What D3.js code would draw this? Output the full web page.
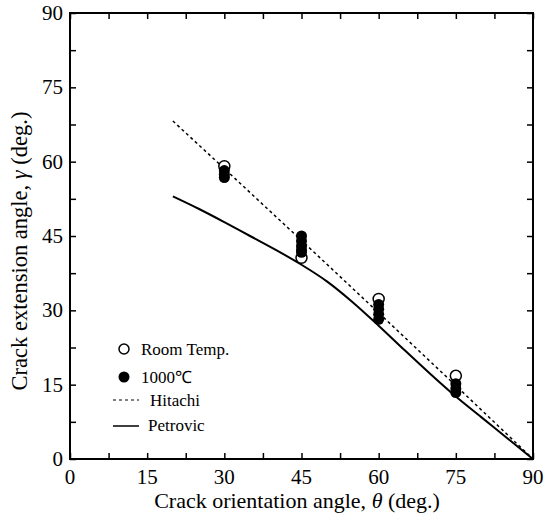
<!DOCTYPE html>
<html><head><meta charset="utf-8">
<script src="https://cdn.jsdelivr.net/npm/d3@7"></script>
<style>body{margin:0;background:#fff}svg{display:block}</style>
</head><body><svg id="c" width="545" height="521"></svg>
<script>
const xTicks = [0, 15, 30, 45, 60, 75, 90];
const yTicks = [0, 15, 30, 45, 60, 75, 90];
const roomTemp = [[30, 59.1], [45, 40.6], [60, 32.3], [75, 16.8]];
const hot1000 = [[30, 58.2], [30, 57.4], [30, 56.8], [45, 45], [45, 44], [45, 43], [45, 42.2], [45, 41.7],
  [60, 31.2], [60, 30.2], [60, 29.2], [60, 28.2], [75, 15.2], [75, 14.2], [75, 13.4]];
const hitachi = [[20, 68.2], [30, 58.6], [45, 44.1], [60, 29.5], [75, 14.8], [90, 0]];
const petrovic = [[20, 53], [25, 50.5], [30, 47.8], [35, 45], [40, 42.2], [45, 39.2], [50, 35.8], [55, 31.6],
  [60, 26.9], [65, 22], [70, 17.2], [75, 12.6], [80, 8.4], [85, 4.2], [90, 0]];

const ff = "Liberation Serif";
const svg = d3.select("#c").attr("font-family", ff);
const x = d3.scaleLinear().domain([0, 90]).range([70, 533]);
const y = d3.scaleLinear().domain([0, 90]).range([459, 13]);
const minor = d3.range(0, 90.1, 7.5);

svg.append("rect").attr("x", 70).attr("y", 13).attr("width", 463).attr("height", 446)
  .attr("fill", "none").attr("stroke", "#000").attr("stroke-width", 2);

const bx = svg.append("g").attr("transform", "translate(0,459)")
  .call(d3.axisBottom(x).tickValues(minor).tickSize(-6).tickFormat(""));
const tx = svg.append("g").attr("transform", "translate(0,13)")
  .call(d3.axisTop(x).tickValues(minor).tickSize(-6).tickFormat(""));
const ly = svg.append("g").attr("transform", "translate(70,0)")
  .call(d3.axisLeft(y).tickValues(minor).tickSize(-6).tickFormat(""));
const ry = svg.append("g").attr("transform", "translate(533,0)")
  .call(d3.axisRight(y).tickValues(minor).tickSize(-6).tickFormat(""));
[bx, tx, ly, ry].forEach(g => { g.select(".domain").remove(); g.selectAll("line").attr("stroke", "#000").attr("stroke-width", 1.5); });

svg.append("g").selectAll("text").data(xTicks).join("text")
  .attr("font-family", ff).attr("x", d => x(d)).attr("y", 484).attr("text-anchor", "middle").attr("font-size", 21).text(d => d);
svg.append("g").selectAll("text").data(yTicks).join("text")
  .attr("font-family", ff).attr("x", 63).attr("y", d => y(d) + 7).attr("text-anchor", "end").attr("font-size", 21).text(d => d);

const xt = svg.append("text").attr("font-family", ff).attr("x", 297).attr("y", 508).attr("text-anchor", "middle").attr("font-size", 22);
xt.append("tspan").text("Crack orientation angle,  ");
xt.append("tspan").attr("font-style", "italic").text("θ");
xt.append("tspan").text(" (deg.)");
const yt = svg.append("text").attr("font-family", ff).attr("transform", "translate(27,251) rotate(-90)").attr("text-anchor", "middle").attr("font-size", 22.5);
yt.append("tspan").text("Crack extension angle,  ");
yt.append("tspan").attr("font-style", "italic").text("γ");
yt.append("tspan").text(" (deg.)");

const line = d3.line().x(d => x(d[0])).y(d => y(d[1]));
svg.append("path").datum(hitachi).attr("d", line).attr("fill", "none").attr("stroke", "#000")
  .attr("stroke-width", 1.5).attr("stroke-dasharray", "3,3");
svg.append("path").datum(petrovic).attr("d", d3.line().curve(d3.curveMonotoneX).x(d => x(d[0])).y(d => y(d[1])))
  .attr("fill", "none").attr("stroke", "#000").attr("stroke-width", 2);

svg.append("g").selectAll("circle").data(roomTemp).join("circle")
  .attr("cx", d => x(d[0])).attr("cy", d => y(d[1])).attr("r", 5.5).attr("fill", "#fff")
  .attr("stroke", "#000").attr("stroke-width", 1.5);
svg.append("g").selectAll("circle").data(hot1000).join("circle")
  .attr("cx", d => x(d[0])).attr("cy", d => y(d[1])).attr("r", 5.5).attr("fill", "#000");

const lg = svg.append("g").attr("font-family", ff).attr("font-size", 17);
lg.append("circle").attr("cx", 124).attr("cy", 349).attr("r", 5).attr("fill", "#fff").attr("stroke", "#000").attr("stroke-width", 1.5);
lg.append("text").attr("x", 141).attr("y", 355).text("Room Temp.");
lg.append("circle").attr("cx", 124).attr("cy", 377).attr("r", 5.5).attr("fill", "#000");
lg.append("text").attr("x", 141).attr("y", 383).text("1000℃");
lg.append("line").attr("x1", 113).attr("x2", 139).attr("y1", 400).attr("y2", 400)
  .attr("stroke", "#000").attr("stroke-width", 1).attr("stroke-dasharray", "3,3");
lg.append("text").attr("x", 150).attr("y", 406).text("Hitachi");
lg.append("line").attr("x1", 113).attr("x2", 139).attr("y1", 426).attr("y2", 426)
  .attr("stroke", "#000").attr("stroke-width", 1.5);
lg.append("text").attr("x", 148).attr("y", 431).text("Petrovic");
</script></body></html>
